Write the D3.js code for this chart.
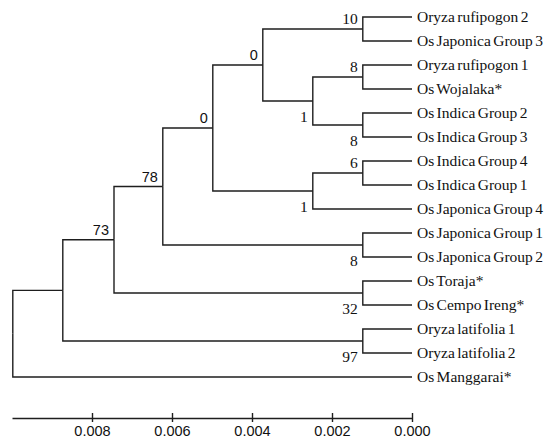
<!DOCTYPE html>
<html>
<head>
<meta charset="utf-8">
<script src="https://cdn.jsdelivr.net/npm/d3@7"></script>
<style>
  body { margin: 0; background: #fff; }
  .branch { fill: none; stroke: #1e1e1e; stroke-width: 1.4; }
  .leaf { font-family: "Liberation Serif", serif; font-size: 15.5px; fill: #111; word-spacing: -1.5px; }
  .boot { font-size: 15px; fill: #111; }
  .boot.serif { font-family: "Liberation Serif", serif; font-size: 15.5px; }
  .boot.sans { font-family: "Liberation Sans", sans-serif; font-size: 14.5px; }
  .axis path, .axis line { stroke: #1e1e1e; stroke-width: 1.4; }
  .axis text { font-family: "Liberation Sans", sans-serif; font-size: 14.5px; fill: #111; }
</style>
</head>
<body>
<script>
// leaves, top to bottom
var leaves = [
    "Oryza rufipogon 2", "Os Japonica Group 3", "Oryza rufipogon 1", "Os Wojalaka*",
    "Os Indica Group 2", "Os Indica Group 3", "Os Indica Group 4", "Os Indica Group 1",
    "Os Japonica Group 4", "Os Japonica Group 1", "Os Japonica Group 2", "Os Toraja*",
    "Os Cempo Ireng*", "Oryza latifolia 1", "Oryza latifolia 2", "Os Manggarai*"
];

// internal nodes: kids are leaf indices or clade ids
var clades = ["A", "B", "C", "D", "E", "F", "G", "H", "I", "J", "K", "L", "M", "N", "O"];
var cladeKids = [
    [0, 1], [2, 3], [4, 5], ["B", "C"], ["A", "D"],
    [6, 7], ["F", 8], ["E", "G"], [9, 10], ["H", "I"],
    [11, 12], ["J", "K"], [13, 14], ["L", "M"], ["N", 15]
];
var cladeHeight = [0.00123, 0.00123, 0.00123, 0.00248, 0.00373,
                   0.00123, 0.00248, 0.00498, 0.00123, 0.00623,
                   0.00123, 0.00745, 0.00123, 0.00873, 0.00998];
var cladeSupport = ["10", "8", "8", "1", "0", "6", "1", "0", "8", "78", "32", "73", "97", "", ""];

var axisTicks = [0.008, 0.006, 0.004, 0.002, 0.000];

var w = 550, h = 439;

var svg = d3.select("body").append("svg")
    .attr("width", w)
    .attr("height", h);

function build(k) {
    if (typeof k === "number") return {name: leaves[k], height: 0, support: ""};
    var i = clades.indexOf(k);
    return {
        name: k,
        height: cladeHeight[i],
        support: cladeSupport[i],
        children: cladeKids[i].map(build)
    };
}

var root = d3.hierarchy(build("O"));

var xScale = d3.scaleLinear().domain([0.01, 0]).range([12, 412]);
var yScale = d3.scalePoint().domain(leaves).range([17, 377]);

root.eachAfter(function (d) {
    d.px = xScale(d.data.height);
    if (!d.children) d.py = yScale(d.data.name);
    else d.py = (d.children[0].py + d.children[d.children.length - 1].py) / 2;
});

// elbow branches
svg.selectAll(".branch")
    .data(root.links())
    .enter().append("path")
    .attr("class", "branch")
    .attr("d", function (l) {
        return "M" + l.source.px + "," + l.source.py + "V" + l.target.py + "H" + l.target.px;
    });

// leaf labels
svg.selectAll(".leaf")
    .data(root.leaves())
    .enter().append("text")
    .attr("class", "leaf")
    .attr("x", function (d) { return d.px + 5; })
    .attr("y", function (d) { return d.py; })
    .attr("dy", "0.35em")
    .text(function (d) { return d.data.name; });

// bootstrap values: above the branch for upper kids, below for lower kids
var inner = root.descendants().filter(function (d) { return d.children && d.data.support !== ""; });
svg.selectAll(".boot")
    .data(inner)
    .enter().append("text")
    .attr("class", function (d) { return "boot " + (d.data.height > 0.003 ? "sans" : "serif"); })
    .attr("text-anchor", "end")
    .attr("x", function (d) { return d.px - 5; })
    .attr("y", function (d) {
        var upper = d.parent && d.parent.children[0] === d;
        return upper ? d.py - 5 : d.py + 21;
    })
    .text(function (d) { return d.data.support; });

// scale axis
var xAxis = d3.axisBottom(xScale)
    .tickValues(axisTicks)
    .tickFormat(d3.format(".3f"))
    .tickSizeOuter(0);

var gx = svg.append("g")
    .attr("class", "axis")
    .attr("transform", "translate(0,418)")
    .call(xAxis);

gx.selectAll(".tick line").attr("y1", -5).attr("y2", 4);
gx.selectAll(".tick text").attr("y", 7.5).attr("dy", "0.71em");
</script>
</body>
</html>
